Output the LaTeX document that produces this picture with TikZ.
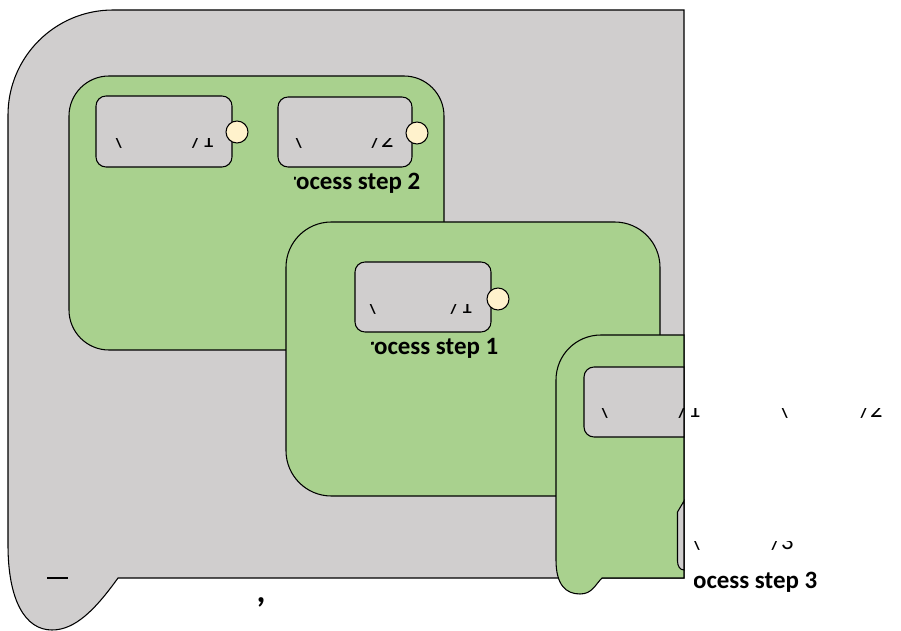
\documentclass[tikz,border=0pt]{standalone}
\usepackage{fontspec}
\setmainfont{Carlito}
\definecolor{graybg}{HTML}{D0CECE}
\definecolor{greenbg}{HTML}{A9D18E}
\definecolor{portfill}{HTML}{FFF2CC}
\tikzset{
  grayshape/.style={fill=graybg, draw=black, line width=0.8pt},
  greenshape/.style={fill=greenbg, draw=black, line width=0.8pt},
  groupbox/.style={greenshape, rectangle, inner sep=0pt},
  actbox/.style={grayshape, rectangle, rounded corners=7.5pt, inner sep=0pt},
  port/.style={circle, fill=portfill, draw=black, line width=0.8pt, minimum size=16.5pt, inner sep=0pt},
  steplabel/.style={font=\fontsize{18.7}{21}\selectfont\bfseries, inner sep=0pt},
  frag/.style={font=\fontsize{18.5}{20}\selectfont, inner sep=0pt},
}
\begin{document}
\begin{tikzpicture}[x=0.75pt, y=-0.75pt]
\useasboundingbox (0,0) rectangle (901,631);

% outer gray container
\path[grayshape] (684,578) -- (118,578)
  .. controls (95,610) and (75,630) .. (52,630)
  .. controls (25,630) and (8,600) .. (8,545)
  -- (8,115) .. controls (8,57) and (55,10) .. (113,10)
  -- (684,10) -- cycle;

% group A
\node[groupbox, rounded corners=30pt, minimum width=281.25pt, minimum height=205.5pt] (grpA) at (256.5,213) {};
\node[actbox, minimum width=102pt, minimum height=53.25pt] (act1) at (164,131.5) {};
\node[actbox, minimum width=100.5pt, minimum height=52.5pt] (act2) at (345,132) {};
\node[port] (p1) at (237,132) {};
\node[port] (p2) at (417,133) {};
\begin{scope}
  \clip (294,160) rectangle (440,200);
  \node[steplabel, anchor=base east] (lbl2) at (420.5,190) {Process step 2};
\end{scope}
\begin{scope}
  \clip (100,139) rectangle (230,147.5);
  \node[frag, anchor=base west] (f1l) at (112,147.5) {\textbackslash};
  \node[frag, anchor=base east] (f1r) at (214.5,147.5) {/1};
\end{scope}
\begin{scope}
  \clip (280,139) rectangle (410,147.5);
  \node[frag, anchor=base west] (f2l) at (292,147.5) {\textbackslash};
  \node[frag, anchor=base east] (f2r) at (394,147.5) {/2};
\end{scope}

% group B
\node[groupbox, rounded corners=34pt, minimum width=280.5pt, minimum height=205.5pt] (grpB) at (473,359) {};
\node[actbox, minimum width=102pt, minimum height=52.5pt] (act3) at (423,297) {};
\node[port] (p3) at (498,299) {};
\begin{scope}
  \clip (371.5,330) rectangle (520,370);
  \node[steplabel, anchor=base east] (lbl1) at (498.5,355) {Process step 1};
\end{scope}
\begin{scope}
  \clip (358,305) rectangle (489,313.5);
  \node[frag, anchor=base west] (f3l) at (366,313.5) {\textbackslash};
  \node[frag, anchor=base east] (f3r) at (473,313.5) {/1};
\end{scope}

% group C (cut at the right)
\path[greenshape] (684,335) -- (601,335)
  .. controls (576,335) and (556,355) .. (556,380)
  -- (556,560) .. controls (556,585) and (566,594) .. (580,594)
  .. controls (592,594) and (595,585) .. (602,578)
  -- (684,578) -- cycle;
\path[grayshape] (684,367) -- (594,367)
  .. controls (588.5,367) and (584,371.5) .. (584,377)
  -- (584,427) .. controls (584,432.5) and (588.5,437) .. (594,437)
  -- (684,437) -- cycle;
\path[grayshape] (684,501) -- (677.5,512) -- (677.5,561)
  .. controls (677.5,566) and (680,570) .. (684,570) -- cycle;
\begin{scope}
  \clip (694,560) rectangle (860,600);
  \node[steplabel, anchor=base east] (lbl3) at (817.5,588) {Process step 3};
\end{scope}
\begin{scope}
  \clip (590,409) rectangle (720,417.5);
  \node[frag, anchor=base west] (f4l) at (598,417.5) {\textbackslash};
  \node[frag, anchor=base east] (f4r) at (701,417.5) {/1};
\end{scope}
\begin{scope}
  \clip (770,409) rectangle (900,417.5);
  \node[frag, anchor=base west] (f5l) at (778,417.5) {\textbackslash};
  \node[frag, anchor=base east] (f5r) at (883,417.5) {/2};
\end{scope}
\begin{scope}
  \clip (686,541) rectangle (810,549.5);
  \node[frag, anchor=base west] (f6l) at (690,549.5) {\textbackslash};
  \node[frag, anchor=base east] (f6r) at (794,549.5) {/3};
\end{scope}

% bottom marks
\coordinate (dashL) at (47,578);
\coordinate (dashR) at (68,578);
\draw[line width=1.3pt] (dashL) -- (dashR);
\node[font=\fontsize{26}{28}\selectfont\bfseries, inner sep=0pt, anchor=base] (comma) at (261,602) {,};
\end{tikzpicture}
\end{document}
